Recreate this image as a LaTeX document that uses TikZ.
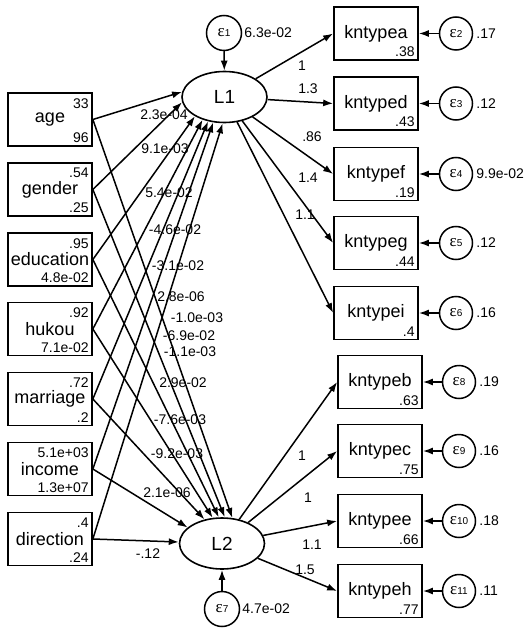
\documentclass[tikz,border=0pt]{standalone}
\usepackage{fontspec}
\setmainfont{Liberation Sans}
\newfontfamily\epsfont{Liberation Serif}
\usetikzlibrary{shapes.geometric,arrows.meta}
\newcommand\mkleft[5]{%
  \node[box] (#1) at (50,#2) {#3};
  \node[num,anchor=north east] at ([shift={(-4,6)}]#1.north east) {#4};
  \node[num,anchor=south east] at ([shift={(-4,-4)}]#1.south east) {#5};
}
\newcommand\mkright[5]{%
  \node[box] (#1) at (#2,#3) {#4};
  \node[num,anchor=south east] at ([shift={(-4,-4)}]#1.south east) {#5};
}
\newcommand\epslab[1]{{\epsfont\fontsize{17bp}{17bp}\selectfont ε}{\fontsize{10bp}{10bp}\selectfont #1}}
\begin{document}
\begin{tikzpicture}[x=1bp,y=-1bp,
  box/.style={draw,line width=1.7bp,minimum width=84bp,minimum height=53bp,inner sep=0pt,font=\fontsize{18bp}{18bp}\selectfont},
  lat/.style={draw,ellipse,line width=1.6bp,minimum width=85bp,minimum height=51bp,inner sep=0pt,font=\fontsize{19bp}{19bp}\selectfont},
  err/.style={draw,circle,line width=1.5bp,minimum size=33bp,inner sep=0pt},
  num/.style={font=\fontsize{14bp}{14bp}\selectfont,inner sep=0pt},
  lab/.style={font=\fontsize{14bp}{14bp}\selectfont,inner sep=0pt},
  arr/.style={line width=1.5bp,-{Latex[length=10bp,width=7bp]}},
]
\useasboundingbox (0,0) rectangle (529,633);
% latent variables
\node[lat] (L1) at (224.5,97) {L1};
\node[lat] (L2) at (222,543.5) {L2};
\node[err,minimum size=35bp] (e1) at (224,33) {\epslab{1}};
\node[err,minimum size=35bp] (e7) at (222,609) {\epslab{7}};
\node[lab,anchor=west] at ([xshift=2bp]e1.east) {6.3e-02};
\node[lab,anchor=west] at ([xshift=2bp]e7.east) {4.7e-02};
\draw[arr] (e1) -- (L1);
\draw[arr] (e7) -- (L2);
% left boxes
\mkleft{age}{119.5}{age}{33}{96}
\mkleft{gender}{189.5}{gender}{.54}{.25}
\mkleft{education}{259.5}{education}{.95}{4.8e-02}
\mkleft{hukou}{329}{hukou}{.92}{7.1e-02}
\mkleft{marriage}{399}{marriage}{.72}{.2}
\mkleft{income}{469}{income}{5.1e+03}{1.3e+07}
\mkleft{direction}{539}{direction}{.4}{.24}
% right boxes
\mkright{ka}{376}{33.5}{kntypea}{.38}
\mkright{kd}{376}{103.5}{kntyped}{.43}
\mkright{kf}{376}{174}{kntypef}{.19}
\mkright{kg}{376}{243}{kntypeg}{.44}
\mkright{ki}{376}{313}{kntypei}{.4}
\mkright{kb}{380}{382}{kntypeb}{.63}
\mkright{kc}{380}{451}{kntypec}{.75}
\mkright{ke}{380}{521}{kntypee}{.66}
\mkright{kh}{380}{591}{kntypeh}{.77}
% error terms right
\foreach \n/\b/\x/\v in {2/ka/456/.17,3/kd/456/.12,4/kf/456/9.9e-02,5/kg/456/.12,6/ki/456/.16,8/kb/459/.19,9/kc/459/.16,10/ke/459/.18,11/kh/459/.11}{
  \node[err] (e\n) at (\x,0 |- \b) {\epslab{\n}};
  \node[lab,anchor=west] at ([xshift=3bp]e\n.east) {\v};
  \draw[arr] (e\n) -- (\b);
}
% paths to L1
\draw[arr] (age.east) -- (L1.173);
\draw[arr] (gender.east) -- (L1.187);
\draw[arr] (education.east) -- (L1.213);
\draw[arr] (hukou.east) -- (L1.226);
\draw[arr] (marriage.east) -- (L1.236);
\draw[arr] (income.east) -- (L1.246);
\draw[arr] (direction.east) -- (L1.266);
% paths to L2
\draw[arr] (age.east) -- (L2.68);
\draw[arr] (gender.east) -- (L2.84);
\draw[arr] (education.east) -- (L2.97);
\draw[arr] (hukou.east) -- (L2.110);
\draw[arr] (marriage.east) -- (L2.126);
\draw[arr] (income.east) -- (L2.155);
\draw[arr] (direction.east) -- (L2.178);
% coefficient labels
\node[lab] at (164,115) {2.3e-04};
\node[lab] at (165,149) {9.1e-03};
\node[lab] at (169,193) {5.4e-02};
\node[lab] at (175,230) {-4.6e-02};
\node[lab] at (178,266) {-3.1e-02};
\node[lab] at (181,297) {2.8e-06};
\node[lab] at (197,318) {-1.0e-03};
\node[lab] at (189,336) {-6.9e-02};
\node[lab] at (190,352) {-1.1e-03};
\node[lab] at (183,383) {2.9e-02};
\node[lab] at (180,420) {-7.6e-03};
\node[lab] at (177,454) {-9.2e-03};
\node[lab] at (167,493) {2.1e-06};
\node[lab] at (148,554) {-.12};
% loadings
\draw[arr] (L1) -- (ka.west);
\draw[arr] (L1) -- (kd.west);
\draw[arr] (L1) -- (kf.west);
\draw[arr] (L1) -- (kg.west);
\draw[arr] (L1) -- (ki.west);
\draw[arr] (L2) -- (kb.west);
\draw[arr] (L2) -- (kc.west);
\draw[arr] (L2) -- (ke.west);
\draw[arr] (L2) -- (kh.west);
\node[lab] at (302,66) {1};
\node[lab] at (308,89) {1.3};
\node[lab] at (312,137) {.86};
\node[lab] at (308,178) {1.4};
\node[lab] at (305,215) {1.1};
\node[lab] at (302,456) {1};
\node[lab] at (308,498) {1};
\node[lab] at (312,545) {1.1};
\node[lab] at (305,570) {1.5};
\end{tikzpicture}
\end{document}
